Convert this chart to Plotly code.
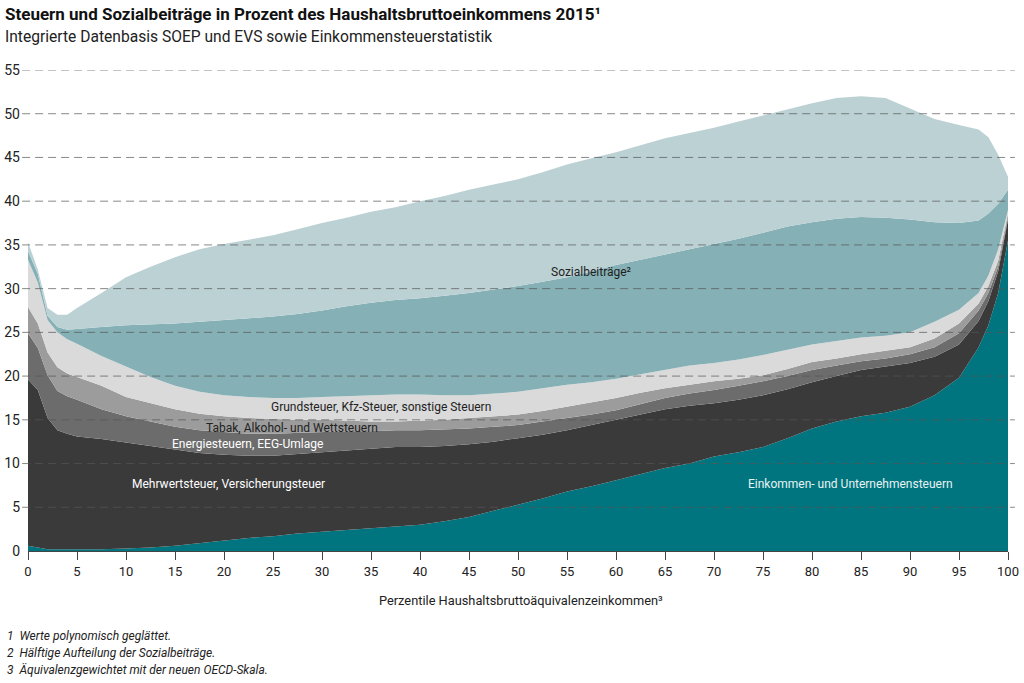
import plotly.graph_objects as go

# Perzentile of household gross equivalent income
perzentile = [0, 1, 2, 3, 4, 5, 7.5, 10, 12.5, 15, 17.5, 20, 22.5, 25, 27.5, 30, 32.5, 35,
              37.5, 40, 42.5, 45, 47.5, 50, 52.5, 55, 57.5, 60, 62.5, 65, 67.5, 70, 72.5,
              75, 77.5, 80, 82.5, 85, 87.5, 90, 92.5, 95, 97, 98, 99, 100]

# Layer values (percent of household gross income), bottom to top
einkommensteuer = [0.6, 0.4, 0.2, 0.2, 0.2, 0.2, 0.2, 0.3, 0.4, 0.6, 0.9, 1.2, 1.5, 1.7, 2.0,
                   2.2, 2.4, 2.6, 2.8, 3.0, 3.4, 3.9, 4.6, 5.3, 6.0, 6.8, 7.4, 8.1, 8.8, 9.5,
                   10.0, 10.8, 11.3, 11.9, 12.9, 14.0, 14.8, 15.4, 15.8, 16.5, 17.8, 19.8,
                   23.3, 25.8, 29.5, 35.5]
mehrwertsteuer = [19.0, 18.0, 15.0, 13.6, 13.2, 12.9, 12.6, 12.1, 11.6, 11.0, 10.3, 9.8, 9.4,
                  9.2, 9.1, 9.1, 9.1, 9.1, 9.1, 8.9, 8.6, 8.3, 7.9, 7.6, 7.3, 7.0, 7.0, 6.9,
                  6.8, 6.7, 6.6, 6.1, 6.0, 5.9, 5.6, 5.3, 5.2, 5.3, 5.3, 5.0, 4.4, 3.8, 3.0,
                  2.8, 2.5, 2.4]
energiesteuer = [5.3, 4.8, 4.9, 4.5, 4.3, 4.2, 3.4, 3.0, 2.8, 2.6, 2.6, 2.6, 2.5, 2.5, 2.4,
                 2.3, 2.2, 2.0, 1.9, 1.9, 1.9, 1.8, 1.7, 1.5, 1.5, 1.4, 1.2, 1.1, 1.2, 1.3,
                 1.4, 1.5, 1.6, 1.6, 1.5, 1.4, 1.2, 1.0, 0.9, 1.0, 1.1, 1.3, 1.2, 0.9, 0.5, 0.3]
tabaksteuer = [3.0, 2.8, 2.6, 2.7, 2.6, 2.6, 2.7, 2.2, 2.1, 2.0, 1.9, 1.8, 1.8, 1.7, 1.5, 1.4,
               1.2, 1.1, 1.0, 1.1, 1.1, 1.2, 1.2, 1.2, 1.2, 1.3, 1.4, 1.4, 1.3, 1.1, 1.0, 1.0,
               0.8, 0.7, 0.8, 0.9, 0.8, 0.8, 0.9, 0.8, 1.0, 1.1, 0.8, 0.8, 0.7, 0.4]
grundsteuer = [5.4, 4.7, 3.7, 4.0, 3.9, 3.8, 3.4, 3.5, 3.0, 2.7, 2.5, 2.4, 2.4, 2.4, 2.5, 2.6,
               2.8, 3.0, 3.1, 3.0, 2.8, 2.6, 2.6, 2.6, 2.6, 2.5, 2.3, 2.2, 2.1, 2.1, 2.2, 2.1,
               2.2, 2.3, 2.2, 2.0, 2.0, 1.9, 1.7, 1.7, 1.9, 1.6, 1.2, 1.2, 1.3, 0.4]
sozial_arbeitnehmer = [1.0, 1.0, 0.5, 0.6, 1.1, 1.7, 3.3, 4.7, 6.0, 7.1, 8.0, 8.6, 9.0, 9.3,
                       9.6, 9.9, 10.3, 10.6, 10.8, 11.0, 11.4, 11.7, 11.9, 12.1, 12.2, 12.3,
                       12.7, 13.0, 13.1, 13.2, 13.3, 13.6, 13.8, 14.0, 14.1, 14.0, 14.0, 13.8,
                       13.5, 12.9, 11.4, 9.9, 8.3, 7.1, 5.2, 2.3]
sozial_arbeitgeber = [1.0, 0.5, 0.9, 1.4, 1.7, 2.4, 3.9, 5.5, 6.6, 7.6, 8.3, 8.7, 9.0, 9.3,
                      9.7, 10.0, 10.1, 10.4, 10.6, 11.1, 11.4, 11.8, 12.0, 12.2, 12.5, 12.9,
                      12.9, 12.9, 13.1, 13.3, 13.3, 13.3, 13.4, 13.4, 13.4, 13.6, 13.8, 13.8,
                      13.7, 12.7, 11.8, 11.2, 10.4, 8.7, 5.6, 1.5]

layers = [
    ("Einkommen- und Unternehmensteuern", einkommensteuer, "#00757f"),
    ("Mehrwertsteuer, Versicherungsteuer", mehrwertsteuer, "#3b3a3a"),
    ("Energiesteuern, EEG-Umlage", energiesteuer, "#6c6c6c"),
    ("Tabak, Alkohol- und Wettsteuern", tabaksteuer, "#9c9c9c"),
    ("Grundsteuer, Kfz-Steuer, sonstige Steuern", grundsteuer, "#dadada"),
    ("Sozialbeiträge AN", sozial_arbeitnehmer, "#85b0b5"),
    ("Sozialbeiträge AG", sozial_arbeitgeber, "#bcd1d4"),
]

y_ticks = [0, 5, 10, 15, 20, 25, 30, 35, 40, 45, 50, 55]
x_ticks = list(range(0, 101, 5))

FONT = "Roboto, Liberation Sans, sans-serif"

fig = go.Figure()
for name, vals, col in layers:
    fig.add_trace(go.Scatter(
        x=perzentile, y=vals, name=name, mode="lines",
        stackgroup="one", line=dict(width=0, color=col),
        fillcolor=col, hoverinfo="skip", showlegend=False))

# dashed gridlines drawn above the areas
for t in y_ticks[1:]:
    fig.add_shape(type="line", xref="paper", yref="y", x0=-0.006, x1=1.007, y0=t, y1=t,
                  line=dict(color="rgba(85,85,85,0.7)", width=1, dash="8px,5px"),
                  layer="above")

annotations = [
    dict(text="Sozialbeiträge²", x=57.4, y=31.9, color="#222222"),
    dict(text="Grundsteuer, Kfz-Steuer, sonstige Steuern", x=36.0, y=16.5, color="#222222"),
    dict(text="Tabak, Alkohol- und Wettsteuern", x=26.9, y=14.1, color="#222222"),
    dict(text="Energiesteuern, EEG-Umlage", x=22.4, y=12.2, color="#ffffff"),
    dict(text="Mehrwertsteuer, Versicherungsteuer", x=20.5, y=7.7, color="#ffffff"),
    dict(text="Einkommen- und Unternehmensteuern", x=83.9, y=7.7, color="#e8f2f3"),
]
for a in annotations:
    fig.add_annotation(x=a["x"], y=a["y"], xref="x", yref="y", text=a["text"],
                       showarrow=False, font=dict(family=FONT, size=12, color=a["color"]))

# subtitle, axis title, footnotes
fig.add_annotation(xref="paper", yref="paper", x=-0.0255, y=1.0686, xanchor="left",
                   yanchor="middle", showarrow=False,
                   text="Integrierte Datenbasis SOEP und EVS sowie Einkommensteuerstatistik",
                   font=dict(family=FONT, size=15.6, color="#222222"))
fig.add_annotation(xref="paper", yref="paper", x=0.503, y=-0.102, xanchor="center",
                   yanchor="middle", showarrow=False,
                   text="Perzentile Haushaltsbruttoäquivalenzeinkommen³",
                   font=dict(family=FONT, size=12.8, color="#222222"))
footnotes = ["1  Werte polynomisch geglättet.",
             "2  Hälftige Aufteilung der Sozialbeiträge.",
             "3  Äquivalenzgewichtet mit der neuen OECD-Skala."]
for i, fn in enumerate(footnotes):
    fig.add_annotation(xref="paper", yref="paper", x=-0.0235, y=-0.1767 - i * 0.0353,
                       xanchor="left", yanchor="middle", showarrow=False,
                       text="<i>" + fn + "</i>",
                       font=dict(family=FONT, size=12, color="#222222"))

fig.update_layout(
    width=1024, height=683,
    margin=dict(l=28, r=16, t=70, b=132, autoexpand=False),
    paper_bgcolor="white", plot_bgcolor="white",
    title=dict(text="<b>Steuern und Sozialbeiträge in Prozent des Haushaltsbruttoeinkommens 2015¹</b>",
               x=5 / 1024, xanchor="left", xref="container",
               y=1 - 14 / 683, yanchor="middle", yref="container",
               font=dict(family=FONT, size=17, color="#111111")),
    xaxis=dict(range=[0, 100], tickvals=x_ticks, ticks="outside", ticklen=8,
               tickcolor="#444444", showgrid=False, zeroline=False, showline=True,
               linecolor="#444444", linewidth=1, automargin=False,
               tickfont=dict(family=FONT, size=13, color="#222222")),
    yaxis=dict(range=[0, 55], tickvals=y_ticks, showgrid=False, zeroline=False,
               showline=False, ticks="", ticklabelstandoff=7, automargin=False,
               tickfont=dict(family=FONT, size=14, color="#222222")),
)

fig.write_html("out.html")
